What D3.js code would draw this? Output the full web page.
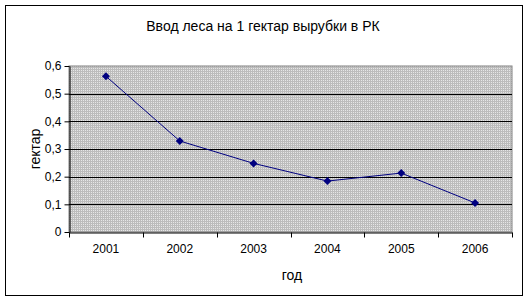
<!DOCTYPE html>
<html>
<head>
<meta charset="utf-8">
<script src="https://cdn.jsdelivr.net/npm/d3@7"></script>
<style>
  body { margin: 0; background: #fff; }
  text { font-family: "Liberation Sans", Arial, sans-serif; fill: #000; }
</style>
</head>
<body>
<svg id="chart" width="529" height="306"></svg>
<script>
var years = ["2001", "2002", "2003", "2004", "2005", "2006"];
var values = [0.563, 0.329, 0.248, 0.184, 0.213, 0.105];
var yTicks = [0, 0.1, 0.2, 0.3, 0.4, 0.5, 0.6];

var svg = d3.select("#chart");
var margin = {top: 66, right: 17, bottom: 74, left: 69},
  width = 529 - margin.left - margin.right,
  height = 306 - margin.top - margin.bottom;

// dotted grey fill like the old office charts
var pat = svg.append("defs").append("pattern")
  .attr("id", "dots").attr("width", 2).attr("height", 2)
  .attr("patternUnits", "userSpaceOnUse");
pat.append("rect").attr("width", 2).attr("height", 2).attr("fill", "#bcbcbc");
pat.append("rect").attr("width", 1).attr("height", 1).attr("fill", "#e6e6e6");

svg.append("rect")
  .attr("x", 5.5).attr("y", 5.5).attr("width", 517).attr("height", 290)
  .attr("fill", "#fff").attr("stroke", "#000");

svg.append("text")
  .attr("x", 263).attr("y", 31)
  .attr("text-anchor", "middle")
  .style("font-size", "14px")
  .text("Ввод леса на 1 гектар вырубки в РК");

var g = svg.append("g").attr("transform", "translate(" + margin.left + "," + margin.top + ")");

var x = d3.scaleBand().domain(years).range([0, width]);
var y = d3.scaleLinear().domain([0, 0.6]).range([height, 0]);

g.append("rect")
  .attr("width", width).attr("height", height)
  .attr("fill", "url(#dots)")
  .attr("stroke", "#808080");

g.selectAll(".grid")
  .data(yTicks.filter(function(d) { return d > 0 && d < 0.6; }))
  .enter().append("line")
  .attr("class", "grid")
  .attr("x1", 0).attr("x2", width)
  .attr("y1", function(d) { return Math.round(y(d)) + 0.5; })
  .attr("y2", function(d) { return Math.round(y(d)) + 0.5; })
  .attr("stroke", "#000");

var yAxis = g.append("g")
  .attr("transform", "translate(0.5,0)")
  .call(d3.axisLeft(y).tickValues(yTicks).tickSize(5).tickSizeOuter(0)
    .tickFormat(function(d) { return d3.format(".1f")(d).replace(".", ",").replace(/^0,0$/, "0"); }));

var xAxis = g.append("g")
  .attr("transform", "translate(0," + (height + 0.5) + ")")
  .call(d3.axisBottom(x).tickSize(0).tickSizeOuter(0));

// ticks between categories
xAxis.selectAll(".sep")
  .data(d3.range(years.length + 1))
  .enter().append("line")
  .attr("class", "sep")
  .attr("x1", function(i) { return Math.round(i * x.step()) + 0.5; })
  .attr("x2", function(i) { return Math.round(i * x.step()) + 0.5; })
  .attr("y1", 0).attr("y2", 5)
  .attr("stroke", "#000");

[yAxis, xAxis].forEach(function(a) {
  a.selectAll("path, line").attr("stroke", "#000");
  a.selectAll("text").style("font-size", "12px").style("font-family", "'Liberation Sans', Arial, sans-serif");
});
xAxis.selectAll(".tick text").attr("dy", "1.45em");
yAxis.selectAll(".tick text").attr("x", -8);

var line = d3.line()
  .x(function(d, i) { return x(years[i]) + x.bandwidth() / 2; })
  .y(function(d) { return y(d); });

g.append("path")
  .datum(values)
  .attr("d", line)
  .attr("fill", "none")
  .attr("stroke", "#000080")
  .attr("stroke-width", 1);

g.selectAll(".pt")
  .data(values)
  .enter().append("path")
  .attr("class", "pt")
  .attr("transform", function(d, i) { return "translate(" + (x(years[i]) + x.bandwidth() / 2) + "," + y(d) + ")"; })
  .attr("d", "M0,-4L4,0L0,4L-4,0Z")
  .attr("fill", "#000080");

svg.append("text")
  .attr("transform", "translate(40," + (margin.top + height / 2) + ") rotate(-90)")
  .attr("text-anchor", "middle")
  .style("font-size", "14px")
  .text("гектар");

svg.append("text")
  .attr("x", 292).attr("y", 280)
  .attr("text-anchor", "middle")
  .style("font-size", "14px")
  .text("год");
</script>
</body>
</html>
